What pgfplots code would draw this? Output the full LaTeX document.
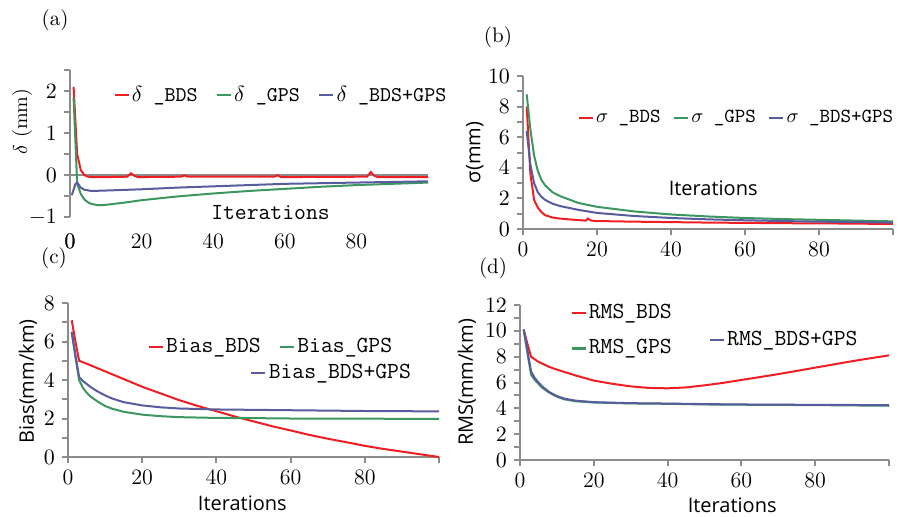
\documentclass[border=0pt]{standalone}
\usepackage{fontspec}
\setsansfont{Open Sans}
\usepackage{pgfplots}
\pgfplotsset{compat=1.18}
\definecolor{cred}{RGB}{240,30,34}
\definecolor{cgreen}{RGB}{60,150,95}
\definecolor{cblue}{RGB}{88,92,158}
\definecolor{cgray}{RGB}{140,140,140}
\pgfplotsset{
 panel/.style={
  scale only axis, axis y line=left, axis x line=bottom,
  axis line style={-, draw=cgray, line width=1pt},
  every tick/.style={draw=cgray, line width=1pt},
  tick align=outside, major tick length=3pt, minor tick length=3pt,
  xmin=0, xmax=100, xtick={0,20,...,100}, xticklabels={0,20,40,60,80,},
  tick label style={font=\fontsize{11}{13}\selectfont},
  legend style={draw=none, fill=none, inner sep=0pt, nodes={inner sep=1pt},
    font=\ttfamily\fontsize{10.5}{12}\selectfont,
    /tikz/every even column/.append style={column sep=8pt}},
  legend image code/.code={\draw[##1,line width=1.3pt] (0pt,0pt) -- (7pt,0pt);},
  legend cell align=left,
  every axis plot/.append style={line width=1pt, no markers},
  clip=false,
 },
 hidelegend/.style={scale only axis, hide axis, xmin=0, xmax=1, ymin=0, ymax=1,
  legend style={draw=none, fill=none, inner sep=0pt, nodes={inner sep=1pt},
    font=\ttfamily\fontsize{11.5}{13}\selectfont},
  legend image code/.code={\draw[##1,line width=1.3pt] (0pt,0pt) -- (7pt,0pt);},
 },
}
\begin{document}
\begin{tikzpicture}
\useasboundingbox (0,0) rectangle (457.5pt,258pt);
\node[font=\fontsize{10.5}{12}\selectfont] at (27.5pt,248pt) {(a)};
\node[font=\fontsize{10.5}{12}\selectfont] at (249pt,239.5pt) {(b)};
\node[font=\fontsize{10.5}{12}\selectfont] at (27pt,129pt) {(c)};
\node[font=\fontsize{10.5}{12}\selectfont] at (246.5pt,124pt) {(d)};

% (a)
\begin{axis}[panel, at={(35pt,149.5pt)}, anchor=south west, width=179pt, height=73.5pt,
  x axis line style={draw=none}, xtick style={draw=none},
  ymin=-1, ymax=2.5, ytick={-1,0,1,2}, minor ytick={-0.5,0.5,1.5,2.5},
  extra y ticks={0}, extra y tick labels={}, extra y tick style={grid=major, major grid style={draw=cgray, line width=1pt}},
  xticklabel style={yshift=-2pt},
  xlabel={Iterations}, xlabel style={at={(axis description cs:0.56,0.03)}, anchor=center, font=\ttfamily\fontsize{11.5}{13}\selectfont},
  ylabel={$\delta$ (mm)}, ylabel style={at={(axis description cs:-0.134,0.65)}, anchor=center, font=\fontsize{10}{12}\selectfont},
  legend columns=3, legend style={at={(axis description cs:0.12,0.83)}, anchor=west}]
\addplot[cred] coordinates {(1,2.1)(2,0.5)(3,0.12)(4,0.0)(5,-0.04)(6,-0.05)(10,-0.05)(16,-0.04)(17,0.04)(18,-0.02)(19,-0.05)(31,-0.04)(32,-0.01)(33,-0.04)(57,-0.04)(58,-0.01)(59,-0.05)(83,-0.04)(84,0.07)(85,-0.02)(86,-0.05)(100,-0.05)};
\addlegendentry{$\delta$ \_BDS}
\addplot[cgreen] coordinates {(1,1.85)(2,-0.2)(3,-0.45)(4,-0.58)(5,-0.65)(6,-0.69)(8,-0.72)(10,-0.71)(15,-0.66)(20,-0.6)(30,-0.51)(40,-0.44)(50,-0.38)(60,-0.33)(70,-0.28)(80,-0.24)(90,-0.21)(100,-0.18)};
\addlegendentry{$\delta$ \_GPS}
\addplot[cblue] coordinates {(0.5,-0.48)(1,-0.35)(1.5,-0.22)(2,-0.18)(3,-0.3)(4,-0.35)(6,-0.38)(10,-0.37)(20,-0.34)(30,-0.3)(40,-0.27)(50,-0.24)(60,-0.21)(80,-0.18)(100,-0.15)};
\addlegendentry{$\delta$ \_BDS+GPS}
\node[anchor=north, font=\fontsize{11}{13}\selectfont, inner sep=0.333em, yshift=-5pt] at (axis cs:0,-1) {$0$};
\end{axis}

% (b)
\begin{axis}[panel, at={(261.5pt,143.5pt)}, anchor=south west, width=185pt, height=76.5pt,
  ymin=0, ymax=10, ytick={0,2,...,10}, minor ytick={1,3,...,9},
  xlabel={Iterations}, xlabel style={at={(axis description cs:0.514,0.268)}, anchor=center, font=\sffamily\fontsize{10}{12}\selectfont},
  ylabel={σ(mm)}, ylabel style={at={(axis description cs:-0.13,0.5)}, anchor=center, font=\sffamily\fontsize{10}{12}\selectfont},
  legend columns=3, legend style={at={(axis description cs:0.146,0.725)}, anchor=west,
    font=\ttfamily\fontsize{10}{12}\selectfont, /tikz/every even column/.append style={column sep=5pt}}]
\addplot[cred] coordinates {(1,8.0)(2,3.6)(3,1.9)(4,1.4)(5,1.1)(6,0.9)(8,0.75)(10,0.68)(15,0.58)(17,0.55)(17.5,0.68)(18.5,0.55)(20,0.52)(30,0.48)(40,0.45)(50,0.42)(60,0.4)(70,0.38)(85,0.36)(100,0.33)};
\addlegendentry{$\sigma$ \_BDS}
\addplot[cgreen] coordinates {(1,8.8)(2,6.5)(3,4.8)(4,3.8)(5,3.2)(6,2.85)(8,2.4)(10,2.15)(15,1.7)(20,1.45)(30,1.15)(40,0.95)(50,0.82)(60,0.72)(70,0.65)(80,0.6)(90,0.55)(100,0.5)};
\addlegendentry{$\sigma$ \_GPS}
\addplot[cblue] coordinates {(1,6.4)(2,4.2)(3,3.0)(4,2.4)(5,2.1)(6,1.9)(8,1.65)(10,1.5)(15,1.25)(20,1.05)(30,0.85)(40,0.72)(50,0.63)(60,0.57)(70,0.52)(80,0.48)(90,0.45)(100,0.42)};
\addlegendentry{$\sigma$ \_BDS+GPS}
\end{axis}

% (c)
\begin{axis}[panel, at={(34pt,29.5pt)}, anchor=south west, width=185.5pt, height=77pt,
  ymin=0, ymax=8, ytick={0,2,...,8}, minor ytick={1,3,...,7},
  xlabel={Iterations}, xlabel style={at={(axis description cs:0.47,-0.30)}, anchor=center, font=\sffamily\fontsize{10}{12}\selectfont},
  ylabel={Bias(mm/km)}, ylabel style={at={(axis description cs:-0.108,0.49)}, anchor=center, font=\sffamily\fontsize{10}{12}\selectfont},
  legend columns=2, legend style={at={(axis description cs:0.213,0.714)}, anchor=west, font=\ttfamily\fontsize{11.5}{13}\selectfont}]
\addplot[cred] coordinates {(1,7.1)(2,6.0)(3,5.0)(5,4.85)(10,4.45)(15,4.05)(20,3.65)(25,3.3)(30,2.95)(35,2.65)(40,2.38)(45,2.1)(50,1.85)(55,1.6)(60,1.38)(65,1.15)(70,0.95)(75,0.77)(80,0.58)(85,0.42)(90,0.28)(95,0.14)(100,0.0)};
\addlegendentry{Bias\_BDS}
\addplot[cgreen] coordinates {(1,6.5)(2,5.2)(3,4.0)(4,3.6)(5,3.35)(6,3.15)(8,2.88)(10,2.65)(12,2.5)(15,2.35)(20,2.2)(25,2.12)(30,2.07)(40,2.03)(50,2.02)(60,2.0)(80,1.99)(100,1.98)};
\addlegendentry{Bias\_GPS}
\addplot[cblue, forget plot] coordinates {(1,6.5)(2,5.3)(3,4.15)(4,3.95)(5,3.8)(6,3.65)(8,3.4)(10,3.2)(12,3.03)(15,2.85)(20,2.68)(25,2.58)(30,2.52)(40,2.47)(50,2.45)(60,2.43)(80,2.39)(100,2.37)};
\end{axis}
\begin{axis}[hidelegend, at={(34pt,29.5pt)}, anchor=south west, width=185.5pt, height=77pt,
  legend style={at={(axis description cs:0.49,0.545)}, anchor=west}]
\addlegendimage{cblue, line width=1pt}
\addlegendentry{Bias\_BDS+GPS}
\end{axis}

% (d)
\begin{axis}[panel, at={(260pt,28pt)}, anchor=south west, width=184.5pt, height=77.5pt,
  ymin=0, ymax=12, ytick={0,2,...,12}, minor ytick={1,3,...,11},
  xlabel={Iterations}, xlabel style={at={(axis description cs:0.575,-0.29)}, anchor=center, font=\sffamily\fontsize{10}{12}\selectfont},
  ylabel={RMS(mm/km)}, ylabel style={at={(axis description cs:-0.144,0.50)}, anchor=center, font=\sffamily\fontsize{10}{12}\selectfont},
  legend columns=1, legend style={at={(axis description cs:0.135,1.02)}, anchor=north west, row sep=7pt, font=\ttfamily\fontsize{11.5}{13}\selectfont}]
\addplot[cred] coordinates {(1,10.1)(2,9.0)(3,8.0)(5,7.6)(8,7.2)(10,7.0)(15,6.55)(20,6.15)(25,5.9)(30,5.7)(35,5.58)(40,5.55)(45,5.62)(50,5.78)(55,5.97)(60,6.2)(65,6.42)(70,6.65)(75,6.9)(80,7.15)(85,7.4)(90,7.65)(95,7.88)(100,8.1)};
\addlegendentry{RMS\_BDS}
\addplot[cgreen] coordinates {(1,10.1)(2,8.3)(3,6.6)(4,6.2)(5,5.9)(6,5.6)(8,5.2)(10,4.9)(12,4.7)(15,4.55)(20,4.45)(30,4.38)(40,4.35)(50,4.3)(60,4.28)(80,4.25)(100,4.2)};
\addlegendentry{RMS\_GPS}
\addplot[cblue, forget plot] coordinates {(1,10.1)(2,8.5)(3,6.85)(4,6.35)(5,6.0)(6,5.7)(8,5.25)(10,4.95)(12,4.75)(15,4.6)(20,4.48)(30,4.4)(40,4.37)(50,4.33)(60,4.3)(80,4.27)(100,4.25)};
\end{axis}
\begin{axis}[hidelegend, at={(260pt,28pt)}, anchor=south west, width=184.5pt, height=77.5pt,
  legend style={at={(axis description cs:0.51,0.774)}, anchor=west}]
\addlegendimage{cblue, line width=1pt}
\addlegendentry{RMS\_BDS+GPS}
\end{axis}
\end{tikzpicture}
\end{document}
